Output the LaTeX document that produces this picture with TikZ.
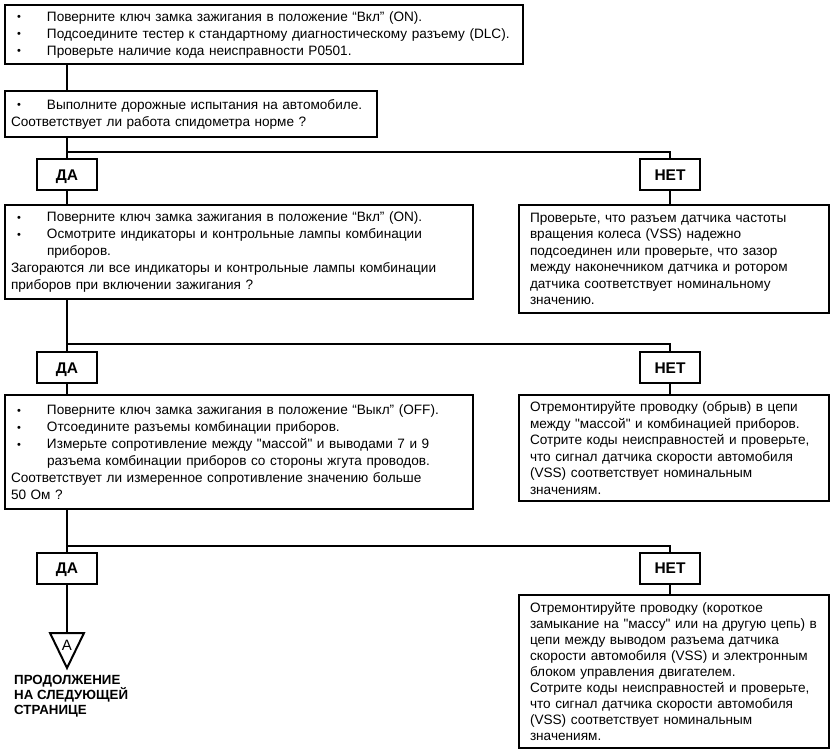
\documentclass[tikz,border=0pt]{standalone}
\usepackage{fontspec}
\setmainfont{Liberation Sans}[Ligatures=TeXOff]
\newcommand\bitem{\makebox[36pt][l]{\hspace{6pt}\raisebox{0.3pt}{\fontsize{11}{11}\selectfont\textbullet}}}
\newcommand\bcont{\hspace*{36pt}}
\begin{document}
\begin{tikzpicture}[x=1pt,y=-1pt,
  box/.style={draw, line width=2pt, anchor=north west, align=left, inner xsep=6pt, inner ysep=0pt,
    font=\fontsize{13.6}{17}\selectfont},
  rbox/.style={box, inner xsep=11pt, font=\fontsize{13.6}{16.5}\selectfont},
  ans/.style={draw, line width=2pt, minimum width=60pt, minimum height=31pt, inner sep=0pt,
    text height=11pt, text depth=0pt, font=\bfseries\fontsize{15.5}{17}\selectfont},
  conn/.style={line width=2pt},
]
\useasboundingbox (0,0) rectangle (833,751);

% level 0
\node[box, text width=506pt, minimum height=59pt] (b1) at (4,4) {%
\bitem Поверните ключ замка зажигания в положение “Вкл” (ON).\\
\bitem Подсоедините тестер к стандартному диагностическому разъему (DLC).\\
\bitem Проверьте наличие кода неисправности P0501.};

\node[box, text width=360pt, minimum height=46pt] (b2) at (4,90) {%
\bitem Выполните дорожные испытания на автомобиле.\\
Соответствует ли работа спидометра норме ?};

% branch 1
\node[ans] (da1) at (67,175) {ДА};
\node[ans] (net1) at (670,175) {НЕТ};
\coordinate (j1) at (67,152);

\node[box, text width=456pt, minimum height=94pt] (b3) at (4,204) {%
\bitem Поверните ключ замка зажигания в положение “Вкл” (ON).\\
\bitem Осмотрите индикаторы и контрольные лампы комбинации\\
\bcont приборов.\\
Загораются ли все индикаторы и контрольные лампы комбинации\\
приборов при включении зажигания ?};

\node[rbox, text width=288pt, minimum height=108pt] (b4) at (518,204) {%
Проверьте, что разъем датчика частоты\\
вращения колеса (VSS) надежно\\
подсоединен или проверьте, что зазор\\
между наконечником датчика и ротором\\
датчика соответствует номинальному\\
значению.};

% branch 2
\node[ans] (da2) at (67,368) {ДА};
\node[ans] (net2) at (670,368) {НЕТ};
\coordinate (j2) at (67,344);

\node[box, text width=456pt, minimum height=114pt] (b5) at (4,394) {%
\bitem Поверните ключ замка зажигания в положение “Выкл” (OFF).\\
\bitem Отсоедините разъемы комбинации приборов.\\
\bitem Измерьте сопротивление между "массой" и выводами 7 и 9\\
\bcont разъема комбинации приборов со стороны жгута проводов.\\
Соответствует ли измеренное сопротивление значению больше\\
50 Ом ?};

\node[rbox, text width=288pt, minimum height=106pt] (b6) at (518,394) {%
Отремонтируйте проводку (обрыв) в цепи\\
между "массой" и комбинацией приборов.\\
Сотрите коды неисправностей и проверьте,\\
что сигнал датчика скорости автомобиля\\
(VSS) соответствует номинальным\\
значениям.};

% branch 3
\node[ans] (da3) at (67,568) {ДА};
\node[ans] (net3) at (670,568) {НЕТ};
\coordinate (j3) at (67,546);

\node[rbox, text width=288pt, minimum height=153pt, font=\fontsize{13.6}{15.9}\selectfont] (b7) at (518,594) {%
Отремонтируйте проводку (короткое\\
замыкание на "массу" или на другую цепь) в\\
цепи между выводом разъема датчика\\
скорости автомобиля (VSS) и электронным\\
блоком управления двигателем.\\
Сотрите коды неисправностей и проверьте,\\
что сигнал датчика скорости автомобиля\\
(VSS) соответствует номинальным\\
значениям.};

% off-page connector
\coordinate (tri) at (67,633);
\draw[conn, line join=miter] (50,633) -- (84,633) -- (67,668) -- cycle;
\node[font=\fontsize{15}{16}\selectfont, inner sep=0pt] (triA) at (67,645) {A};
\node[anchor=north west, align=left, inner sep=0pt,
  font=\bfseries\fontsize{13.3}{14.8}\selectfont] (cont) at (14,675) {ПРОДОЛЖЕНИЕ\\НА СЛЕДУЮЩЕЙ\\СТРАНИЦЕ};

% connectors
\draw[conn] (da1 |- b1.south) -- (da1 |- b2.north);
\draw[conn] (da1 |- b2.south) -- (da1.north);
\draw[conn] (j1) -| (net1.north);
\draw[conn] (da1.south) -- (da1 |- b3.north);
\draw[conn] (net1.south) -- (net1 |- b4.north);

\draw[conn] (da2 |- b3.south) -- (da2.north);
\draw[conn] (j2) -| (net2.north);
\draw[conn] (da2.south) -- (da2 |- b5.north);
\draw[conn] (net2.south) -- (net2 |- b6.north);

\draw[conn] (da3 |- b5.south) -- (da3.north);
\draw[conn] (j3) -| (net3.north);
\draw[conn] (da3.south) -- (tri);
\draw[conn] (net3.south) -- (net3 |- b7.north);
\end{tikzpicture}
\end{document}
